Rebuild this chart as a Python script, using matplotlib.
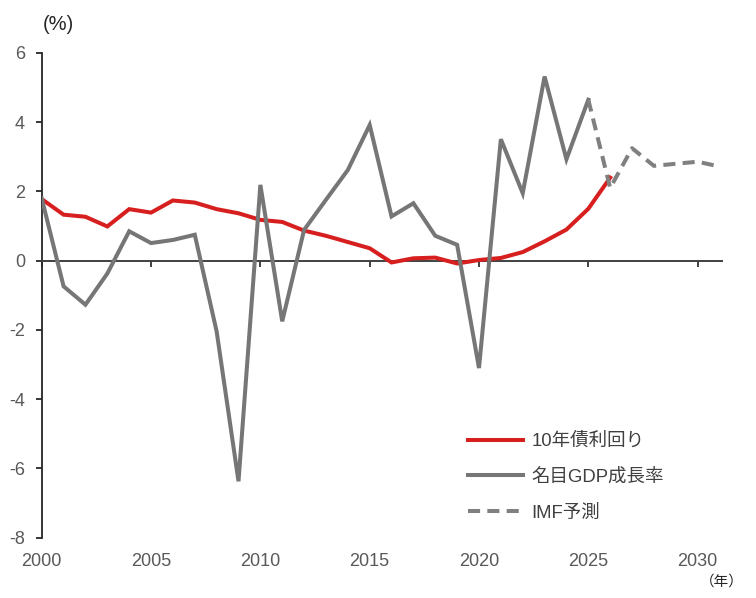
import matplotlib
matplotlib.use("Agg")
import matplotlib.pyplot as plt

plt.rcParams['font.family'] = ['Liberation Sans', 'Noto Sans CJK JP']

# ---- data ----
years = list(range(2000, 2026))
gdp_growth = [1.80, -0.74, -1.27, -0.37, 0.85, 0.51, 0.60, 0.75, -2.04, -6.37,
              2.19, -1.75, 0.89, 1.76, 2.62, 3.92, 1.28, 1.66, 0.72, 0.46,
              -3.10, 3.51, 1.95, 5.32, 2.93, 4.65]
bond_years = list(range(2000, 2027))
bond_yield = [1.78, 1.33, 1.27, 0.99, 1.49, 1.39, 1.74, 1.68, 1.49, 1.37,
              1.18, 1.12, 0.87, 0.72, 0.54, 0.36, -0.05, 0.07, 0.09, -0.08,
              0.02, 0.08, 0.25, 0.56, 0.90, 1.50, 2.40]
imf_years = [2025, 2026, 2027, 2028, 2029, 2030, 2031]
imf_forecast = [4.65, 2.10, 3.25, 2.74, 2.80, 2.86, 2.72]

xticks = [2000, 2005, 2010, 2015, 2020, 2025, 2030]
yticks = [-8, -6, -4, -2, 0, 2, 4, 6]
labels = ['10年債利回り', '名目GDP成長率', 'IMF予測']

RED = '#d71f1f'
GRAY = '#767676'
DGRAY = '#808080'
TICKC = '#595959'
AXC = '#404040'

fig = plt.figure(figsize=(7.56, 5.98), dpi=100)
ax = fig.add_axes([0.0552, 0.1008, 0.8994, 0.8106])

ax.plot(bond_years, bond_yield, color=RED, lw=2.9, label=labels[0],
        solid_joinstyle='miter', zorder=3)
ax.plot(years, gdp_growth, color=GRAY, lw=2.9, label=labels[1],
        solid_joinstyle='miter', zorder=4)
ax.plot(imf_years, imf_forecast, color=DGRAY, lw=2.9, label=labels[2],
        dashes=(3.0, 1.8), zorder=4)

ax.set_xlim(2000, 2031.1)
ax.set_ylim(-8, 6)

for s in ['top', 'right']:
    ax.spines[s].set_visible(False)
ax.spines['bottom'].set_position(('data', 0))
ax.spines['bottom'].set_color(AXC)
ax.spines['bottom'].set_linewidth(1.4)
ax.spines['left'].set_color('#262626')
ax.spines['left'].set_linewidth(1.3)

ax.set_yticks(yticks)
ax.set_yticklabels([str(v) for v in yticks])
ax.tick_params(axis='y', direction='out', length=4, width=1.3, color='#262626',
               labelsize=13, labelcolor=TICKC, pad=8)
ax.set_xticks(xticks)
ax.tick_params(axis='x', direction='out', length=4, width=1.4, color=AXC,
               labelbottom=False)

sec = ax.secondary_xaxis(0.0)
sec.set_xticks(xticks)
sec.set_xticklabels([str(v) for v in xticks])
sec.tick_params(axis='x', length=0, labelsize=13, labelcolor=TICKC, pad=11)
sec.spines['bottom'].set_visible(False)

fig.text(43 / 756, 1 - 24 / 598, '(%)', fontsize=14.5, color='#262626',
         ha='left', va='center')
fig.text(744 / 756, 1 - 582 / 598, '（年）', fontsize=10.5, color='#262626',
         ha='right', va='center')

leg = ax.legend(loc='upper left', bbox_to_anchor=(468 / 756, 1 - 433 / 598),
                bbox_transform=fig.transFigure, frameon=False, fontsize=13.3,
                handlelength=3.0, handletextpad=0.45, labelspacing=1.0,
                borderpad=0, borderaxespad=0)
for t in leg.get_texts():
    t.set_color('#404040')

fig.savefig('out.png', dpi=100)
